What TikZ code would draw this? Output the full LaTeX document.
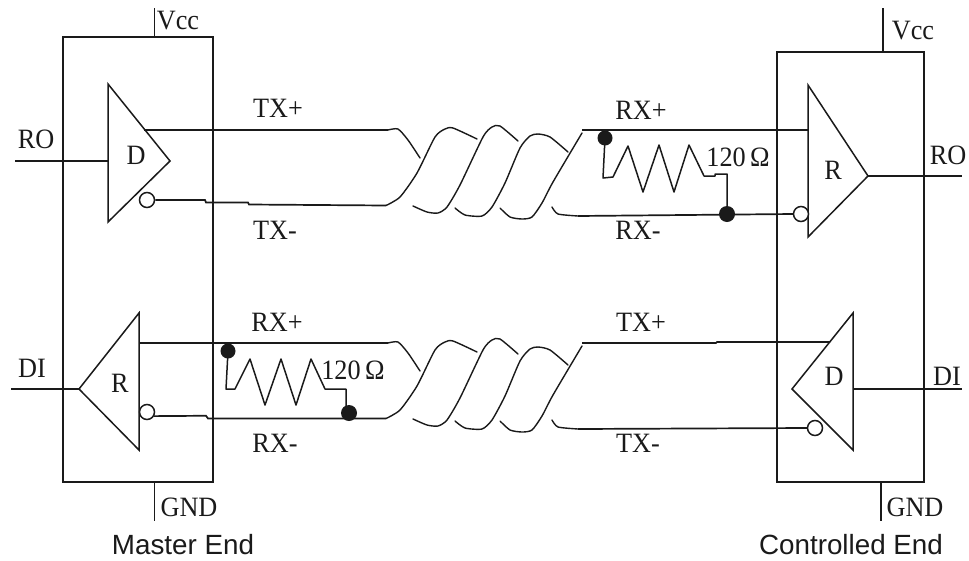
\documentclass[tikz,border=0pt]{standalone}
\usepackage{fontspec}
\setmainfont{Liberation Serif}
\newfontfamily\capfont{Liberation Sans}
\newcommand{\cabletwist}[1]{%
  \coordinate (#1-a) at (388,130);
  \coordinate (#1-b) at (386,205.5);
  \coordinate (#1-c) at (582,130);
  \coordinate (#1-d) at (578,216);
  \draw[twistline] plot[smooth,tension=0.4] coordinates {(388,130)(398,129)(408,140)(420,158)};
  \draw[twistline] plot[smooth,tension=0.4] coordinates {(386,205.5)(400,197)(417,173)(435,137)(445,129)(453,128)(477,139)};
  \draw[twistline] plot[smooth,tension=0.4] coordinates {(413,206)(427,212)(438,213)(447,207)(460,185)(483,137)(492,127)(500,126)(518,141)};
  \draw[twistline] plot[smooth,tension=0.4] coordinates {(455,208)(465,215)(482,216)(492,207)(505,183)(520,148)(530,136)(538,134)(550,137)(568,152)};
  \draw[twistline] plot[smooth,tension=0.4] coordinates {(500,208)(510,217)(522,219)(532,217)(542,203)(553,182)(582,133)};
  \draw[twistline] plot[smooth,tension=0.4] coordinates {(552,207)(558,214)(578,216)};
}
\tikzset{
  x=1pt,y=-1pt,
  wire/.style={line width=1.7pt,draw=ink,line join=miter},
  twistline/.style={line width=1.4pt,draw=ink,line cap=round},
  thinwire/.style={line width=1.5pt,draw=ink,line join=round},
  chip/.style={draw=ink,line width=1.8pt,rectangle,inner sep=0pt,fill=none},
  amp/.style={draw=ink,line width=1.5pt,line join=miter},
  bubble/.style={circle,draw=ink,line width=1.5pt,fill=white,minimum size=15pt,inner sep=0pt},
  junction/.style={circle,fill=ink,draw=none,minimum size=16pt,inner sep=0pt},
  lbl/.style={inner sep=0pt,text=ink,font=\fontsize{25}{25}\selectfont,xscale=1.05,yscale=1.12},
  caption/.style={inner sep=0pt,text=ink,font=\capfont\fontsize{27.8}{28}\selectfont},
}
\definecolor{ink}{HTML}{1A1A1A}
\begin{document}
\begin{tikzpicture}
\useasboundingbox (0,0) rectangle (969,560);
% chips
\node[chip,minimum width=150pt,minimum height=445pt] (mbox) at (138,259.5) {};
\node[chip,minimum width=147pt,minimum height=430pt] (cbox) at (850.5,267) {};
% twisted pairs
\cabletwist{t}
\begin{scope}[shift={(0,213)}]
\cabletwist{u}
\end{scope}
% master driver
\coordinate (d1a) at (108,84); \coordinate (d1b) at (170,161); \coordinate (d1c) at (108,222);
\draw[amp] (d1a)--(d1b)--(d1c)--cycle;
\coordinate (ro1) at (15,161); \coordinate (d1in) at (108,161); \coordinate (d1p) at (144,130);
\draw[wire] (ro1)--(d1in);
\draw[wire] (d1p)--(t-a);
\node[bubble] (b1) at (147,200) {};
\draw[wire] (b1.east)--(205,200)--(206,202.5)--(248,202.5)--(249,204.5)--(t-b);
% master receiver
\coordinate (r2a) at (139,313); \coordinate (r2b) at (79,389); \coordinate (r2c) at (139,450);
\draw[amp] (r2a)--(r2b)--(r2c)--cycle;
\coordinate (di1) at (11,389);
\draw[wire] (di1)--(r2b);
\coordinate (r2p) at (139,343);
\draw[wire] (r2p)--(u-a);
\node[bubble] (b2) at (147,412) {};
\draw[wire] (b2.-30)--(206,415.75)--(208,418.5)--(u-b);
% master resistor
\node[junction,minimum size=15pt] (j2) at (228,351) {};
\node[junction] (j3) at (349,413) {};
\draw[thinwire] (j2.center)--(226,389)--(235,389)--(250,359)--(265,405)--(281,359)--(296,405)--(311,359)--(325,389)--(346,389)--(346,413);
% controlled receiver
\coordinate (r1a) at (808,85); \coordinate (r1b) at (868,176); \coordinate (r1c) at (808,237);
\draw[amp] (r1a)--(r1b)--(r1c)--cycle;
\coordinate (ro2) at (962,176); \coordinate (r1p) at (808,130);
\draw[wire] (r1b)--(ro2);
\draw[wire] (t-c)--(r1p);
\node[bubble] (b3) at (801,214) {};
\draw[wire] (t-d)--(b3.west);
% controlled resistor
\node[junction,minimum size=15pt] (j1) at (605,138) {};
\node[junction] (j4) at (727,214) {};
\draw[thinwire] (j1.center)--(603,178)--(613,177)--(628,146)--(643,192)--(659,145)--(674,192)--(689,145)--(704,176)--(715,176)--(715,174)--(727,174)--(j4.center);
% controlled driver
\coordinate (d2a) at (853,313); \coordinate (d2b) at (792,389); \coordinate (d2c) at (853,450);
\draw[amp] (d2a)--(d2b)--(d2c)--cycle;
\coordinate (di2) at (962,389); \coordinate (d2in) at (853,389); \coordinate (d2p) at (830,342);
\draw[wire] (d2in)--(di2);
\draw[wire] (u-c)--(716,343)--(717,342)--(d2p);
\node[bubble] (b4) at (815,428) {};
\draw[wire] (u-d)--(b4.west);
% power rails
\coordinate (v1) at (154.5,8); \coordinate (g1) at (154.5,521);
\coordinate (v2) at (883,8); \coordinate (g2) at (881,521);
\draw[wire] (v1)--(154.5,37);
\draw[wire] (154.5,482)--(g1);
\draw[wire] (v2)--(883,52);
\draw[wire] (881,482)--(g2);
% labels
\node[lbl] (l1) at (178,21) {Vcc};
\node[lbl] (l2) at (913,31) {Vcc};
\node[lbl] (l3) at (36,139) {RO};
\node[lbl] (l4) at (136,155) {D};
\node[lbl] (l5) at (278,108) {TX+};
\node[lbl] (l6) at (275,230) {TX-};
\node[lbl] (l7) at (641,110) {RX+};
\node[lbl] (l8) at (638,230) {RX-};
\node[lbl] (l9) at (738,157) {120\,Ω};
\node[lbl] (l10) at (833,170) {R};
\node[lbl] (l11) at (948,155) {RO};
\node[lbl] (l12) at (32,368) {DI};
\node[lbl] (l13) at (120,383) {R};
\node[lbl] (l14) at (277,322) {RX+};
\node[lbl] (l15) at (275,443) {RX-};
\node[lbl] (l16) at (353,370) {120\,Ω};
\node[lbl] (l17) at (641,322) {TX+};
\node[lbl] (l18) at (638,443) {TX-};
\node[lbl] (l19) at (834,376) {D};
\node[lbl] (l20) at (947,376) {DI};
\node[lbl] (l21) at (189,507) {GND};
\node[lbl] (l22) at (915,507) {GND};
\node[caption] (c1) at (183,545) {Master End};
\node[caption] (c2) at (851,545) {Controlled End};
\end{tikzpicture}
\end{document}
